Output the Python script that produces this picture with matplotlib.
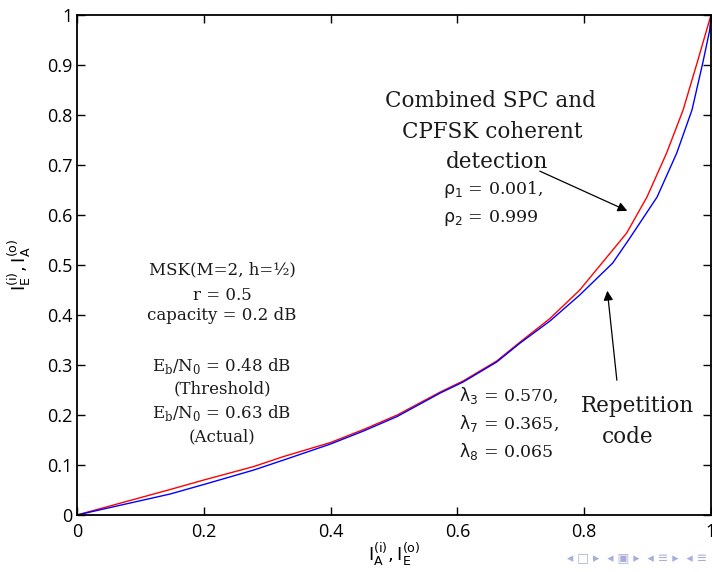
import matplotlib
matplotlib.use("Agg")
import matplotlib.pyplot as plt

# EXIT chart curves
spc_x = [0, 0.147, 0.2, 0.279, 0.326, 0.4, 0.452, 0.505, 0.573, 0.609, 0.662,
         0.699, 0.746, 0.793, 0.845, 0.867, 0.899, 0.93, 0.956, 0.978, 1.0]
spc_y = [0, 0.051, 0.07, 0.097, 0.117, 0.145, 0.171, 0.2, 0.246, 0.268, 0.308,
         0.346, 0.393, 0.45, 0.53, 0.564, 0.636, 0.724, 0.81, 0.904, 1.0]

rep_x = [0, 0.147, 0.2, 0.279, 0.326, 0.4, 0.452, 0.505, 0.573, 0.609, 0.662,
         0.699, 0.746, 0.793, 0.845, 0.871, 0.915, 0.946, 0.97, 0.987, 0.998, 1.0]
rep_y = [0, 0.042, 0.061, 0.09, 0.11, 0.142, 0.168, 0.197, 0.244, 0.266, 0.306,
         0.344, 0.388, 0.44, 0.504, 0.552, 0.636, 0.724, 0.81, 0.904, 0.97, 1.0]

ticks = [0, 0.2, 0.4, 0.6, 0.8, 1]
yticks = [0, 0.1, 0.2, 0.3, 0.4, 0.5, 0.6, 0.7, 0.8, 0.9, 1]

serif = "DejaVu Serif"
txtc = "#1a1a1a"

fig = plt.figure(figsize=(7.12, 5.72), dpi=100)
ax = fig.add_axes([77 / 712, 57 / 572, 634 / 712, 500 / 572])

ax.plot(spc_x, spc_y, color="#ff0000", lw=1.0)
ax.plot(rep_x, rep_y, color="#0000ff", lw=1.0)

ax.set_xlim(0, 1)
ax.set_ylim(0, 1)
ax.set_xticks(ticks)
ax.set_xticklabels(["0", "0.2", "0.4", "0.6", "0.8", "1"])
ax.set_yticks(yticks)
ax.set_yticklabels(["0", "0.1", "0.2", "0.3", "0.4", "0.5", "0.6", "0.7", "0.8", "0.9", "1"])
ax.tick_params(direction="in", top=True, right=True, length=6, width=1,
               labelsize=13)
ax.tick_params(axis="x", pad=6)
ax.tick_params(axis="y", pad=3)
for lab in ax.get_xticklabels() + ax.get_yticklabels():
    lab.set_family("Open Sans")
for s in ax.spines.values():
    s.set_linewidth(1.3)

ax.set_xlabel(r"$\mathregular{I_A^{(i)},I_E^{(o)}}$", fontsize=13, labelpad=0)
ax.set_ylabel(r"$\mathregular{I_E^{(i)},I_A^{(o)}}$", fontsize=13, labelpad=10)

# annotations upper right
big = 15.5
fig.text(490 / 712, 1 - 101 / 572, "Combined SPC and", family=serif, fontsize=big,
         ha="center", va="center", color=txtc)
fig.text(492 / 712, 1 - 132 / 572, "CPFSK coherent", family=serif, fontsize=big,
         ha="center", va="center", color=txtc)
fig.text(497 / 712, 1 - 162 / 572, "detection", family=serif, fontsize=big,
         ha="center", va="center", color=txtc)
fig.text(443 / 712, 1 - 190 / 572, r"$\mathrm{\rho}_\mathsf{1}$ = 0.001,", family=serif,
         fontsize=12.5, ha="left", va="center", color=txtc)
fig.text(443 / 712, 1 - 218 / 572, r"$\mathrm{\rho}_\mathsf{2}$ = 0.999", family=serif,
         fontsize=12.5, ha="left", va="center", color=txtc)

ax.annotate("", xy=(0.872, 0.606), xytext=(0.726, 0.69),
            arrowprops=dict(arrowstyle="-|>", color="black", lw=0.9,
                            mutation_scale=14))
ax.annotate("", xy=(0.836, 0.454), xytext=(0.852, 0.264),
            arrowprops=dict(arrowstyle="-|>", color="black", lw=0.9,
                            mutation_scale=14))

# left parameter block
mid = 12
left_lines = [
    (270, "MSK(M=2, h=\u00bd)"),
    (295, "r = 0.5"),
    (316, "capacity = 0.2 dB"),
    (366, r"E$_\mathregular{b}$/N$_\mathregular{0}$ = 0.48 dB"),
    (389, "(Threshold)"),
    (413, r"E$_\mathregular{b}$/N$_\mathregular{0}$ = 0.63 dB"),
    (437, "(Actual)"),
]
for ypx, txt in left_lines:
    fig.text(222 / 712, 1 - ypx / 572, txt, family=serif, fontsize=mid,
             ha="center", va="center", color=txtc)

# repetition code labels
fig.text(637 / 712, 1 - 406 / 572, "Repetition", family=serif, fontsize=big,
         ha="center", va="center", color=txtc)
fig.text(628 / 712, 1 - 437 / 572, "code", family=serif, fontsize=big,
         ha="center", va="center", color=txtc)
lam = [(395, r"$\mathrm{\lambda}_\mathsf{3}$ = 0.570,"),
       (424, r"$\mathrm{\lambda}_\mathsf{7}$ = 0.365,"),
       (452, r"$\mathrm{\lambda}_\mathsf{8}$ = 0.065")]
for ypx, txt in lam:
    fig.text(459 / 712, 1 - ypx / 572, txt, family=serif, fontsize=12.5,
             ha="left", va="center", color=txtc)

# beamer navigation symbols
fig.text(707 / 712, 1 - 558 / 572,
         "\u25c2 \u25a1 \u25b8  \u25c2 \u25a3 \u25b8  \u25c2 \u2261 \u25b8  \u25c2 \u2261",
         fontsize=9, color="#a9aed8", ha="right", va="center")

fig.savefig("out.png", dpi=100)
